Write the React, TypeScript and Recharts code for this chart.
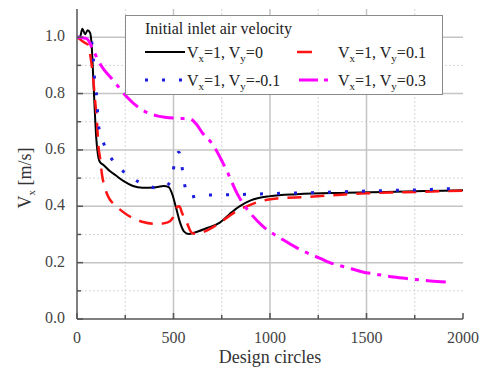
import React from 'react';
import { LineChart, Line, XAxis, YAxis, CartesianGrid, Legend, Label } from 'recharts';

const FONT = "'Liberation Serif', 'DejaVu Serif', 'Times New Roman', serif";
const TXT = { fontFamily: FONT } as React.CSSProperties;

// Axis ticks and grid values
const xDomain: [number, number] = [0, 2000];
const yDomain: [number, number] = [0, 1.1];
const xTicks = [0, 250, 500, 750, 1000, 1250, 1500, 1750, 2000];
const yTicks = [0, 0.1, 0.2, 0.3, 0.4, 0.5, 0.6, 0.7, 0.8, 0.9, 1.0];
const xGridMajor = [500, 1000, 1500];
const xGridMinor = [250, 750, 1250, 1750];
const yGridMajor = [0.2, 0.4, 0.6, 0.8, 1.0];
const yGridMinor = [0.1, 0.3, 0.5, 0.7, 0.9];

// Series data: [design circle, Vx]
const seriesVy0: [number, number][] = [
  [0, 1.0], [15, 1.0], [28, 1.03], [42, 1.01], [55, 1.025], [68, 1.015], [76, 0.97], [84, 0.86],
  [92, 0.74], [100, 0.64], [108, 0.585], [118, 0.558], [140, 0.545], [170, 0.525], [200, 0.51],
  [240, 0.49], [290, 0.472], [340, 0.466], [400, 0.467], [450, 0.472], [475, 0.468], [495, 0.44],
  [515, 0.39], [535, 0.34], [555, 0.31], [578, 0.302], [610, 0.307], [670, 0.322], [740, 0.342],
  [790, 0.372], [840, 0.399], [900, 0.421], [1000, 0.436], [1140, 0.443], [1400, 0.448],
  [1600, 0.451], [1800, 0.454], [2000, 0.457],
];
const seriesVy01: [number, number][] = [
  [0, 1.0], [20, 0.99], [40, 0.98], [58, 0.972], [70, 0.93], [83, 0.86], [93, 0.78], [104, 0.695],
  [110, 0.62], [119, 0.574], [130, 0.51], [145, 0.465], [165, 0.43], [187, 0.41], [220, 0.39],
  [259, 0.37], [300, 0.355], [342, 0.344], [415, 0.337], [470, 0.343], [497, 0.36], [518, 0.397],
  [530, 0.4], [545, 0.375], [570, 0.34], [596, 0.305], [620, 0.302], [660, 0.31], [705, 0.326],
  [757, 0.35], [820, 0.38], [870, 0.397], [950, 0.418], [1036, 0.428], [1192, 0.433],
  [1347, 0.44], [1500, 0.446], [1700, 0.45], [2000, 0.455],
];
const seriesVyM01: [number, number][] = [
  [0, 1.0], [40, 1.0], [70, 0.995], [82, 0.95], [93, 0.83], [104, 0.777], [109, 0.7], [124, 0.652],
  [140, 0.62], [161, 0.589], [200, 0.55], [238, 0.525], [280, 0.503], [326, 0.484], [370, 0.472],
  [420, 0.464], [460, 0.47], [492, 0.504], [508, 0.564], [528, 0.592], [540, 0.56], [552, 0.5],
  [565, 0.455], [585, 0.432], [620, 0.437], [673, 0.44], [800, 0.441], [1000, 0.445],
  [1200, 0.448], [1500, 0.454], [1800, 0.459], [2000, 0.464],
];
const seriesVy03: [number, number][] = [
  [0, 1.0], [50, 0.995], [83, 0.955], [120, 0.905], [190, 0.845], [260, 0.787], [330, 0.745],
  [420, 0.72], [520, 0.712], [585, 0.71], [620, 0.69], [650, 0.66], [700, 0.622], [780, 0.52],
  [830, 0.445], [940, 0.344], [1070, 0.28], [1160, 0.245], [1260, 0.215], [1310, 0.2],
  [1410, 0.181], [1480, 0.167], [1540, 0.16], [1640, 0.149], [1730, 0.142], [1830, 0.135],
  [1920, 0.131],
];

const legendTitle = 'Initial inlet air velocity';
const vyLabels = ['0', '0.1', '-0.1', '0.3'];

const toPts = (arr: [number, number][]) => arr.map(([x, y]) => ({ x, y }));

const seriesCfg = [
  { key: 'vy0', data: seriesVy0, color: '#000000', width: 2, dash: undefined as string | undefined, legendDash: undefined as string | undefined, col: 0, row: 0, s0: 20, s1: 60 },
  { key: 'vy01', data: seriesVy01, color: '#ff1414', width: 2.5, dash: '14 9', legendDash: '15 30', col: 1, row: 0, s0: 172, s1: 202 },
  { key: 'vym01', data: seriesVyM01, color: '#1c1cdc', width: 3, dash: '3 14', legendDash: '3 14', col: 0, row: 1, s0: 20, s1: 60 },
  { key: 'vy03', data: seriesVy03, color: '#ff00ff', width: 3, dash: '20 7 4 7', legendDash: '19 6 4 30', col: 1, row: 1, s0: 174, s1: 204 },
];

const isMajorX = (v: number) => Math.round(v) % 500 === 0;
const isMajorY = (v: number) => Math.round(v * 10) % 2 === 0;

const BottomTick = (p: any) => {
  const { x, y, payload } = p;
  const v = payload.value;
  const major = isMajorX(v);
  return (
    <g>
      <line x1={x} x2={x} y1={y} y2={y - (major ? 6 : 4)} stroke="#555" strokeWidth={1.5} />
      {major && (
        <text x={x} y={y + 24} textAnchor="middle" fontSize={16} style={TXT} fill="#444">
          {v}
        </text>
      )}
    </g>
  );
};

const TopTick = (p: any) => {
  const { x, y, payload } = p;
  const major = isMajorX(payload.value);
  return <line x1={x} x2={x} y1={y} y2={y + (major ? 6 : 4)} stroke="#555" strokeWidth={1.5} />;
};

const LeftTick = (p: any) => {
  const { x, y, payload } = p;
  const v = payload.value;
  const major = isMajorY(v);
  return (
    <g>
      <line x1={x} x2={x + (major ? 6 : 4)} y1={y} y2={y} stroke="#555" strokeWidth={1.5} />
      {major && (
        <text x={x - 12} y={y + 4} textAnchor="end" fontSize={16} style={TXT} fill="#444">
          {v.toFixed(1)}
        </text>
      )}
    </g>
  );
};

const RightTick = (p: any) => {
  const { x, y, payload } = p;
  const major = isMajorY(payload.value);
  return <line x1={x} x2={x - (major ? 6 : 4)} y1={y} y2={y} stroke="#555" strokeWidth={1.5} />;
};

const XTitle = (p: any) => {
  const vb = p.viewBox || {};
  return (
    <text x={vb.x + vb.width / 2} y={vb.y + 44} textAnchor="middle" fontSize={18} style={TXT} fill="#333">
      Design circles
    </text>
  );
};

const YTitle = (p: any) => {
  const vb = p.viewBox || {};
  const cx = vb.x + 14;
  const cy = vb.y + vb.height / 2 + 14;
  return (
    <text x={cx} y={cy} transform={`rotate(-90, ${cx}, ${cy})`} textAnchor="middle" fontSize={18} style={TXT} fill="#333">
      V<tspan dy={4} fontSize={11}>x</tspan>
      <tspan dy={-4}> [m/s]</tspan>
    </text>
  );
};

const LegendBox = () => (
  <svg width={318} height={80} style={{ display: 'block' }}>
    <rect x={0.5} y={0.5} width={317} height={79} fill="#fff" stroke="#8a8a8a" strokeWidth={1} />
    <text x={20} y={19} fontSize={16} style={TXT} fill="#222">
      {legendTitle}
    </text>
    {seriesCfg.map((s, i) => {
      const ly = s.row === 0 ? 37 : 65;
      const ty = s.row === 0 ? 43 : 71;
      const tx = s.col === 0 ? 62 : 213;
      return (
        <g key={s.key}>
          <line x1={s.s0} x2={s.s1} y1={ly} y2={ly} stroke={s.color} strokeWidth={s.width} strokeDasharray={s.legendDash} />
          <text x={tx} y={ty} fontSize={16} style={TXT} fill="#222">
            V<tspan dy={4} fontSize={11}>x</tspan>
            <tspan dy={-4}>=1, V</tspan>
            <tspan dy={4} fontSize={11}>y</tspan>
            <tspan dy={-4}>={vyLabels[i]}</tspan>
          </text>
        </g>
      );
    })}
  </svg>
);

// Grid coordinate generators: use the axis scale when available, else map through the plot offset
const vGen = (list: number[]) => (props: any) => {
  const ax = props && props.xAxis;
  if (ax && typeof ax.scale === 'function') return list.map((v) => ax.scale(v));
  const o = (props && props.offset) || {};
  return list.map((v) => o.left + ((v - xDomain[0]) / (xDomain[1] - xDomain[0])) * o.width);
};
const hGen = (list: number[]) => (props: any) => {
  const ax = props && props.yAxis;
  if (ax && typeof ax.scale === 'function') return list.map((v) => ax.scale(v));
  const o = (props && props.offset) || {};
  return list.map((v) => o.top + o.height - ((v - yDomain[0]) / (yDomain[1] - yDomain[0])) * o.height);
};

export default function App() {
  return (
    <div style={{ position: 'absolute', left: 0, top: 0, background: '#fff', fontFamily: FONT }}>
      <LineChart width={484} height={368} margin={{ top: 9, right: 21, bottom: 9, left: 17 }} style={TXT}>
        <CartesianGrid
          stroke="#d6d6d6"
          strokeDasharray="2 2"
          strokeWidth={1}
          verticalCoordinatesGenerator={vGen(xGridMinor)}
          horizontalCoordinatesGenerator={hGen(yGridMinor)}
        />
        <CartesianGrid
          stroke="#c4c4c4"
          strokeWidth={1.5}
          verticalCoordinatesGenerator={vGen(xGridMajor)}
          horizontalCoordinatesGenerator={hGen(yGridMajor)}
        />
        <XAxis
          xAxisId={0}
          type="number"
          dataKey="x"
          domain={xDomain}
          ticks={xTicks}
          interval={0}
          allowDataOverflow
          height={40}
          tickSize={0}
          tickMargin={0}
          tickLine={false}
          axisLine={{ stroke: '#555', strokeWidth: 1.5 }}
          tick={<BottomTick />}
        >
          <Label content={<XTitle />} />
        </XAxis>
        <XAxis
          xAxisId="top"
          orientation="top"
          type="number"
          dataKey="x"
          domain={xDomain}
          ticks={xTicks}
          interval={0}
          allowDataOverflow
          height={0}
          tickSize={0}
          tickMargin={0}
          tickLine={false}
          axisLine={{ stroke: '#666', strokeWidth: 1.5 }}
          tick={<TopTick />}
        />
        <YAxis
          yAxisId={0}
          type="number"
          domain={yDomain}
          ticks={yTicks}
          interval={0}
          allowDataOverflow
          width={60}
          tickSize={0}
          tickMargin={0}
          tickLine={false}
          axisLine={{ stroke: '#555', strokeWidth: 1.5 }}
          tick={<LeftTick />}
        >
          <Label content={<YTitle />} />
        </YAxis>
        <YAxis
          yAxisId="right"
          orientation="right"
          type="number"
          domain={yDomain}
          ticks={yTicks}
          interval={0}
          allowDataOverflow
          width={0}
          tickSize={0}
          tickMargin={0}
          tickLine={false}
          axisLine={{ stroke: '#666', strokeWidth: 1.5 }}
          tick={<RightTick />}
        />
        {seriesCfg.map((s) => (
          <Line
            key={s.key}
            xAxisId={0}
            yAxisId={0}
            data={toPts(s.data)}
            dataKey="y"
            type="monotone"
            stroke={s.color}
            strokeWidth={s.width}
            strokeDasharray={s.dash}
            dot={false}
            activeDot={false}
            isAnimationActive={false}
          />
        ))}
        <Legend
          layout="vertical"
          verticalAlign="middle"
          align="center"
          wrapperStyle={{ left: 125, top: 15, width: 318, height: 80 }}
          content={<LegendBox />}
        />
      </LineChart>
    </div>
  );
}
